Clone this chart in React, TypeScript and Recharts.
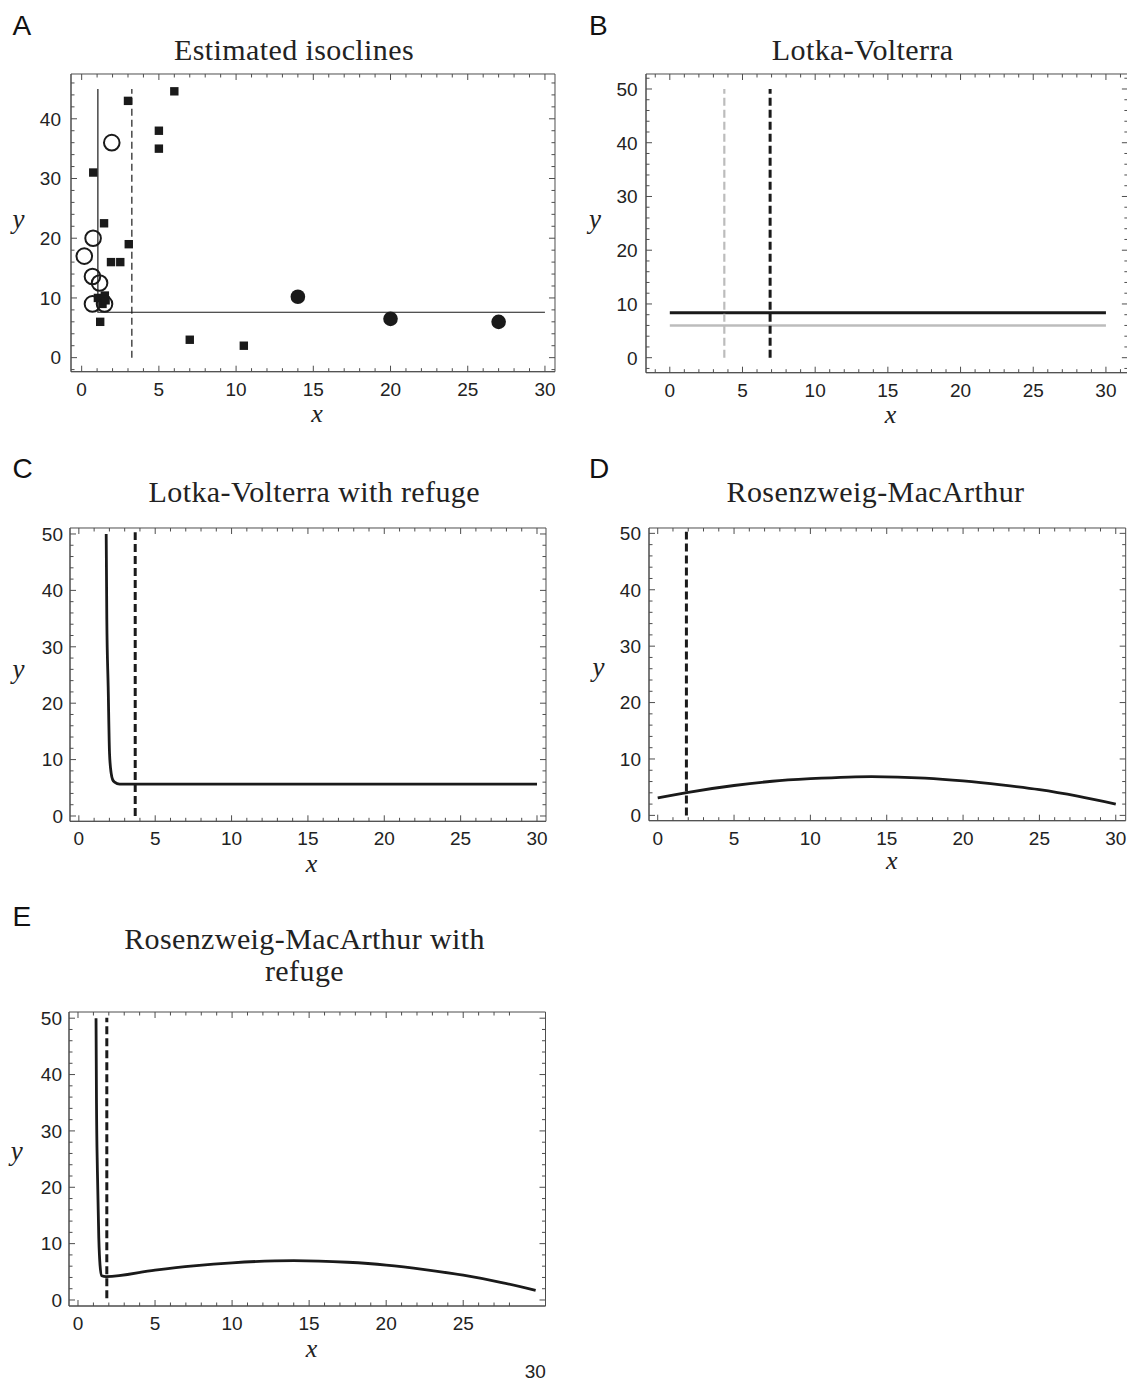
import React from "react";
import { ComposedChart, XAxis, YAxis, Line, Scatter, ReferenceArea } from "recharts";

const INK = "#1a1a1a";
const FRAME = "#4d4d4d";
const GRAY = "#bcbcbc";
const SANS = "'Liberation Sans', Arial, sans-serif";
const SERIF = "'Liberation Serif', 'Times New Roman', serif";

type Pt = { x: number; y: number };

// ---------- A: estimated isoclines (field data) ----------
const aSquares: Pt[] = [
  { x: 6, y: 44.6 }, { x: 3, y: 43 }, { x: 5, y: 38 }, { x: 5, y: 35 },
  { x: 0.75, y: 31 }, { x: 1.45, y: 22.5 }, { x: 3.05, y: 19 },
  { x: 1.9, y: 16 }, { x: 2.5, y: 16 }, { x: 1.05, y: 10 }, { x: 1.5, y: 10.4 },
  { x: 1.35, y: 9 }, { x: 1.55, y: 9.6 }, { x: 1.2, y: 6 }, { x: 7, y: 3 },
  { x: 10.5, y: 2 },
];
const aOpenCircles: Pt[] = [
  { x: 1.95, y: 36 }, { x: 0.74, y: 20 }, { x: 0.17, y: 17 }, { x: 0.7, y: 13.6 },
  { x: 1.16, y: 12.5 }, { x: 0.7, y: 9 }, { x: 1.48, y: 9 },
];
const aFilledCircles: Pt[] = [{ x: 14, y: 10.2 }, { x: 20, y: 6.5 }, { x: 27, y: 6 }];
const aPreyIso: Pt[] = [{ x: 1.05, y: 45 }, { x: 1.05, y: 7.6 }, { x: 30, y: 7.6 }];
const aPredIso: Pt[] = [{ x: 3.25, y: 0 }, { x: 3.25, y: 45 }];

// ---------- B: Lotka-Volterra ----------
const bPreyBlack: Pt[] = [{ x: 0, y: 8.35 }, { x: 30, y: 8.35 }];
const bPreyGray: Pt[] = [{ x: 0, y: 6 }, { x: 30, y: 6 }];
const bPredGray: Pt[] = [{ x: 3.75, y: 0 }, { x: 3.75, y: 50 }];
const bPredBlack: Pt[] = [{ x: 6.9, y: 0 }, { x: 6.9, y: 50 }];

// ---------- C: Lotka-Volterra with refuge ----------
const cPrey: Pt[] = [
  { x: 1.79, y: 50 }, { x: 1.83, y: 35 }, { x: 1.92, y: 22.9 }, { x: 2.01, y: 11 },
  { x: 2.12, y: 7.5 }, { x: 2.22, y: 6.4 }, { x: 2.34, y: 6.0 }, { x: 2.67, y: 5.65 },
  { x: 5, y: 5.65 }, { x: 30, y: 5.65 },
];
const cPred: Pt[] = [{ x: 3.69, y: 0 }, { x: 3.69, y: 50.3 }];

// ---------- D: Rosenzweig-MacArthur ----------
const dPrey: Pt[] = [
  { x: 0, y: 3.1 }, { x: 2, y: 4.1 }, { x: 5, y: 5.3 }, { x: 7.5, y: 6.05 },
  { x: 10, y: 6.5 }, { x: 12.5, y: 6.8 }, { x: 14, y: 6.87 }, { x: 17.5, y: 6.6 },
  { x: 20, y: 6.1 }, { x: 22.5, y: 5.4 }, { x: 25, y: 4.55 }, { x: 27.5, y: 3.4 },
  { x: 30, y: 2.0 },
];
const dPred: Pt[] = [{ x: 1.88, y: 0 }, { x: 1.88, y: 50.3 }];

// ---------- E: Rosenzweig-MacArthur with refuge ----------
const ePrey: Pt[] = [
  { x: 1.17, y: 50 }, { x: 1.2, y: 35 }, { x: 1.26, y: 22.8 }, { x: 1.35, y: 11 },
  { x: 1.43, y: 6.2 }, { x: 1.54, y: 4.3 }, { x: 1.82, y: 4.14 }, { x: 5, y: 5.3 },
  { x: 7.5, y: 6.05 }, { x: 10, y: 6.6 }, { x: 14, y: 7.0 }, { x: 17.5, y: 6.7 },
  { x: 20, y: 6.2 }, { x: 22.5, y: 5.4 }, { x: 25, y: 4.4 }, { x: 27.5, y: 3.1 },
  { x: 29.7, y: 1.7 },
];
const ePred: Pt[] = [{ x: 1.87, y: 0.3 }, { x: 1.87, y: 50.1 }];

// tick positions (labels on multiples of 5 / 10)
const range = (a: number, b: number, step: number) => {
  const out: number[] = [];
  for (let v = a; v <= b + 1e-9; v += step) out.push(Math.round(v * 100) / 100);
  return out;
};
const xTicks30 = range(0, 30, 1);
const xTicksB = range(-1, 31, 1);
const yTicksA = range(-2, 46, 2);
const yTicksB = range(-2, 52, 2);
const yTicks50 = range(0, 50, 2);

// ---------- text ----------
const titles = [
  { text: "Estimated isoclines", x: 294, y: 60 },
  { text: "Lotka-Volterra", x: 862.7, y: 60 },
  { text: "Lotka-Volterra with refuge", x: 314.3, y: 501.7 },
  { text: "Rosenzweig-MacArthur", x: 875.5, y: 502 },
  { text: "Rosenzweig-MacArthur with", x: 304.5, y: 949 },
  { text: "refuge", x: 304.5, y: 981 },
];
const letters = [
  { text: "A", x: 12.5, y: 35 }, { text: "B", x: 589, y: 35 },
  { text: "C", x: 12.5, y: 478.3 }, { text: "D", x: 589, y: 478.3 },
  { text: "E", x: 12.5, y: 925.7 },
];
const yLabels = [
  { x: 12.5, y: 228 }, { x: 589, y: 228 }, { x: 12.5, y: 678 }, { x: 592.5, y: 676 }, { x: 10.7, y: 1160 },
];
const xLabels = [
  { x: 317, y: 422 }, { x: 890.5, y: 423 }, { x: 311.6, y: 872 }, { x: 891.7, y: 869 }, { x: 311.6, y: 1357 },
];

type Side = "bottom" | "left";
interface TickOpts {
  major: number;
  span: number; // distance to the opposite frame side
  gap?: number;
  noLine?: number[];
  shift?: Record<string, [number, number]>;
}

// ticks point inward on both sides of the frame; labels only on majors
function makeTick(side: Side, o: TickOpts) {
  return (props: any) => {
    const { x, y, payload } = props;
    const v: number = payload.value;
    const isMajor = Math.abs(v / o.major - Math.round(v / o.major)) < 1e-6;
    const len = isMajor ? 6 : 3.5;
    const showLine = !(o.noLine && o.noLine.includes(v));
    const common = { fill: "#222", fontSize: 19, fontFamily: SANS, dy: "0.36em" };
    if (side === "bottom") {
      const [dx, dy] = (o.shift && o.shift[String(v)]) || [0, 0];
      return (
        <g>
          {showLine && <line x1={x} y1={y} x2={x} y2={y - len} stroke={FRAME} />}
          {showLine && <line x1={x} y1={y - o.span} x2={x} y2={y - o.span + len} stroke={FRAME} />}
          {isMajor && (
            <text x={x + dx} y={y + 17 + dy} textAnchor="middle" {...common}>
              {v}
            </text>
          )}
        </g>
      );
    }
    return (
      <g>
        <line x1={x} y1={y} x2={x + len} y2={y} stroke={FRAME} />
        <line x1={x + o.span} y1={y} x2={x + o.span - len} y2={y} stroke={FRAME} />
        {isMajor && (
          <text x={x - (o.gap ?? 8)} y={y} textAnchor="end" {...common}>
            {v}
          </text>
        )}
      </g>
    );
  };
}

interface Box { left: number; top: number; right: number; bottom: number }
interface PanelProps {
  box: Box;
  xDomain: [number, number];
  yDomain: [number, number];
  xTicks: number[];
  yTicks: number[];
  gap: number;
  bottomPad?: number;
  xOpts?: Partial<TickOpts>;
  children: React.ReactNode;
}

function Panel({ box, xDomain, yDomain, xTicks, yTicks, gap, bottomPad = 44, xOpts = {}, children }: PanelProps) {
  const padL = 50;
  const padR = 6;
  const padT = 6;
  const plotW = box.right - box.left;
  const plotH = box.bottom - box.top;
  const w = plotW + padL + padR;
  const h = plotH + padT + bottomPad;
  const frameLine = { stroke: FRAME, strokeWidth: 1 };
  return (
    <div style={{ position: "absolute", left: box.left - padL, top: box.top - padT }}>
      <ComposedChart width={w} height={h} margin={{ top: padT, right: padR, bottom: 0, left: 0 }}>
        <XAxis
          type="number"
          dataKey="x"
          domain={xDomain}
          allowDataOverflow
          ticks={xTicks}
          interval={0}
          height={bottomPad}
          tickSize={0}
          tickMargin={0}
          tickLine={false}
          axisLine={frameLine}
          tick={makeTick("bottom", { major: 5, span: plotH, ...xOpts })}
        />
        <YAxis
          type="number"
          dataKey="y"
          domain={yDomain}
          allowDataOverflow
          ticks={yTicks}
          interval={0}
          width={padL}
          tickSize={0}
          tickMargin={0}
          tickLine={false}
          axisLine={frameLine}
          tick={makeTick("left", { major: 10, span: plotW, gap })}
        />
        <ReferenceArea
          x1={xDomain[0]}
          x2={xDomain[1]}
          y1={yDomain[0]}
          y2={yDomain[1]}
          fill="none"
          fillOpacity={0}
          stroke={FRAME}
          strokeWidth={1}
        />
        {children}
      </ComposedChart>
    </div>
  );
}

const squareShape = (p: any) => <rect x={p.cx - 4.2} y={p.cy - 4.2} width={8.4} height={8.4} fill={INK} />;
const openCircleShape = (p: any) => (
  <circle cx={p.cx} cy={p.cy} r={7.8} fill="none" stroke={INK} strokeWidth={2} />
);
const filledCircleShape = (p: any) => <circle cx={p.cx} cy={p.cy} r={7.3} fill={INK} />;

const curve = (data: Pt[], stroke: string, width: number, dash?: string, type: any = "linear") => (
  <Line
    data={data}
    dataKey="y"
    type={type}
    stroke={stroke}
    strokeWidth={width}
    strokeDasharray={dash}
    dot={false}
    activeDot={false}
    isAnimationActive={false}
  />
);

export default function App() {
  return (
    <div
      style={{
        position: "absolute",
        left: 0,
        top: 0,
        width: 1127,
        height: 1382,
        overflow: "hidden",
        background: "#fff",
      }}
    >
      <Panel
        box={{ left: 71.4, top: 74, right: 555.4, bottom: 371.7 }}
        xDomain={[-0.69, 30.65]}
        yDomain={[-2.35, 47.5]}
        xTicks={xTicks30}
        yTicks={yTicksA}
        gap={10}
      >
        {curve(aPreyIso, INK, 1.2)}
        {curve(aPredIso, INK, 1.2, "7 4")}
        <Scatter data={aSquares} shape={squareShape} isAnimationActive={false} />
        <Scatter data={aOpenCircles} shape={openCircleShape} isAnimationActive={false} />
        <Scatter data={aFilledCircles} shape={filledCircleShape} isAnimationActive={false} />
      </Panel>

      <Panel
        box={{ left: 646.1, top: 74, right: 1128, bottom: 372.7 }}
        xDomain={[-1.637, 31.51]}
        yDomain={[-2.79, 52.79]}
        xTicks={xTicksB}
        yTicks={yTicksB}
        gap={8.4}
      >
        {curve(bPreyGray, GRAY, 2.6)}
        {curve(bPreyBlack, INK, 3)}
        {curve(bPredGray, GRAY, 2.2, "8 4")}
        {curve(bPredBlack, INK, 3, "8 4")}
      </Panel>

      <Panel
        box={{ left: 70.4, top: 527.7, right: 546.4, bottom: 821 }}
        xDomain={[-0.58, 30.59]}
        yDomain={[-0.94, 51.06]}
        xTicks={xTicks30}
        yTicks={yTicks50}
        gap={7}
      >
        {curve(cPred, INK, 3, "8 4")}
        {curve(cPrey, INK, 2.8, undefined, "monotone")}
      </Panel>

      <Panel
        box={{ left: 649.3, top: 528.3, right: 1126, bottom: 821 }}
        xDomain={[-0.57, 30.65]}
        yDomain={[-0.94, 50.95]}
        xTicks={xTicks30}
        yTicks={yTicks50}
        gap={8}
      >
        {curve(dPred, INK, 3, "8 4")}
        {curve(dPrey, INK, 2.8, undefined, "monotone")}
      </Panel>

      <Panel
        box={{ left: 68.9, top: 1012, right: 545.4, bottom: 1306 }}
        xDomain={[-0.584, 30.34]}
        yDomain={[-1.065, 51.1]}
        xTicks={xTicks30}
        yTicks={yTicks50}
        gap={7}
        bottomPad={80}
        xOpts={{ noLine: [29, 30], shift: { "30": [-5, 48] } }}
      >
        {curve(ePred, INK, 3, "8 4")}
        {curve(ePrey, INK, 2.8, undefined, "monotone")}
      </Panel>

      <svg
        width={1127}
        height={1382}
        style={{ position: "absolute", left: 0, top: 0, pointerEvents: "none" }}
      >
        {titles.map((t) => (
          <text
            key={t.text}
            x={t.x}
            y={t.y}
            textAnchor="middle"
            fontFamily={SERIF}
            fontSize={30}
            letterSpacing={0.4}
            fill="#222"
          >
            {t.text}
          </text>
        ))}
        {letters.map((t) => (
          <text key={t.text} x={t.x} y={t.y} fontFamily={SANS} fontSize={28} fill="#111">
            {t.text}
          </text>
        ))}
        {yLabels.map((t, i) => (
          <text key={"y" + i} x={t.x} y={t.y} fontFamily={SERIF} fontStyle="italic" fontSize={27} fill="#222">
            y
          </text>
        ))}
        {xLabels.map((t, i) => (
          <text
            key={"x" + i}
            x={t.x}
            y={t.y}
            textAnchor="middle"
            fontFamily={SERIF}
            fontStyle="italic"
            fontSize={26}
            fill="#222"
          >
            x
          </text>
        ))}
      </svg>
    </div>
  );
}
